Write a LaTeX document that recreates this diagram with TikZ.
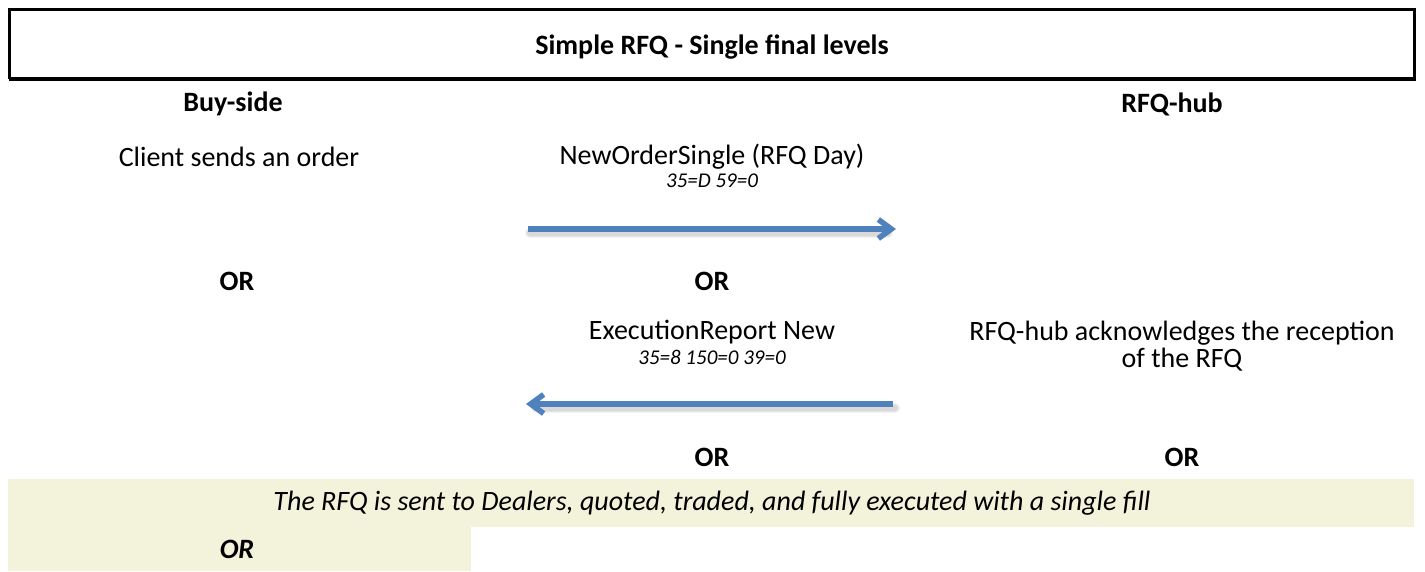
\documentclass[tikz,border=0pt]{standalone}
\usepackage{fontspec}
\setmainfont{Carlito}
\usetikzlibrary{arrows.meta}
\definecolor{flowblue}{HTML}{4F81BD}
\definecolor{bandfill}{HTML}{F3F3DC}
\tikzset{
  x=1pt, y=-1pt,
  lbl/.style={inner sep=0pt, anchor=center, font=\fontsize{28}{33}\selectfont},
  hdr/.style={lbl, font=\fontsize{28}{33}\selectfont\bfseries},
  tag/.style={inner sep=0pt, anchor=center, font=\fontsize{21}{25}\selectfont\itshape},
  msg/.style={line width=5.5pt, draw=flowblue, -{Straight Barb[length=13pt,width=19pt,line width=5.5pt]}},
  msgshadow/.style={line width=#1, draw=black, opacity=0.05, line cap=round},
}
\begin{document}
\begin{tikzpicture}
\useasboundingbox (0,0) rectangle (1425,571);
\fill[white] (0,0) rectangle (1425,571);

% title box
\draw[line width=3pt] (9,79) -- (9,9) -- (1414,9) -- (1414,79);
\draw[line width=3.5pt] (9,79) -- (1416,79);
\node[hdr] (title) at (712,47) {Simple RFQ - Single final levels};

% lanes
\node[hdr] (buy) at (233,104) {Buy-side};
\node[hdr] (hub) at (1172,104) {RFQ-hub};

\node[lbl] (client) at (239,157) {Client sends an order};
\node[lbl] (nos) at (712,157) {NewOrderSingle (RFQ Day)};
\node[tag] (nostag) at (712,181) {35=D 59=0};

% soft drop shadow, then the message arrow
\coordinate (a1s) at (528,229);
\coordinate (a1e) at (896,229);
\foreach \w in {10pt,8pt,6pt}
  \draw[msgshadow=\w] ([shift={(2,4)}]a1s) -- ([shift={(-8,4)}]a1e);
\draw[msg] (a1s) -- (a1e);

\node[hdr] (or1) at (237,281) {OR};
\node[hdr] (or2) at (712,281) {OR};

\node[lbl] (exec) at (712,332) {ExecutionReport New};
\node[tag] (exectag) at (712,357) {35=8 150=0 39=0};
\node[lbl, anchor=base] (ack1) at (1182,340) {RFQ-hub acknowledges the reception};
\node[lbl, anchor=base] (ack2) at (1182,367) {of the RFQ};

\coordinate (a2s) at (893,404);
\coordinate (a2e) at (526,404);
\foreach \w in {10pt,8pt,6pt}
  \draw[msgshadow=\w] ([shift={(2,4)}]a2s) -- ([shift={(10,4)}]a2e);
\draw[msg] (a2s) -- (a2e);

\node[hdr] (or3) at (712,457) {OR};
\node[hdr] (or4) at (1182,457) {OR};

% result band
\fill[bandfill] (8,479) rectangle (1414,527);
\fill[bandfill] (8,527) rectangle (471,571);
\node[lbl, font=\fontsize{28}{33}\selectfont\itshape] (result) at (712,503) {The RFQ is sent to Dealers, quoted, traded, and fully executed with a single fill};
\node[hdr, font=\fontsize{28}{33}\selectfont\bfseries\itshape] (or5) at (237,549) {OR};
\end{tikzpicture}
\end{document}
